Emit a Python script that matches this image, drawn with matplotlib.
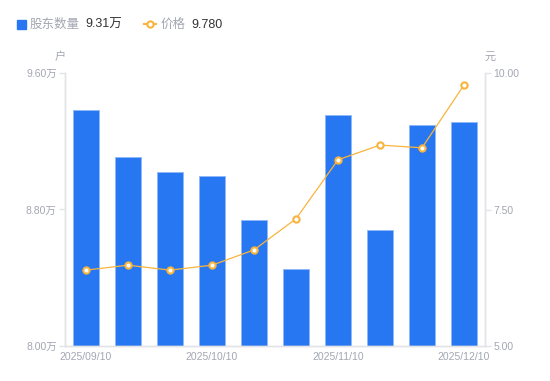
import numpy as np
import matplotlib
matplotlib.use("Agg")
from matplotlib import pyplot as plt
from matplotlib.lines import Line2D
from matplotlib.patches import Rectangle

plt.rcParams['font.family'] = ['Liberation Sans', 'Noto Sans CJK SC', 'DejaVu Sans']
cjk = ['Noto Sans CJK SC', 'DejaVu Sans']

# data
dates = ['2025/09/10', '', '', '2025/10/10', '', '', '2025/11/10', '', '', '2025/12/10']
holders = [9.383, 9.108, 9.020, 8.996, 8.738, 8.451, 9.354, 8.680, 9.295, 9.31]  # 万户
price = [6.39, 6.48, 6.39, 6.48, 6.76, 7.33, 8.41, 8.68, 8.63, 9.78]  # 元
left_ticks = [8.00, 8.80, 9.60]
right_ticks = [5.00, 7.50, 10.00]

blue = '#2777f2'
orange = '#f9b43c'
grey = '#a3a6b2'
axis_grey = '#e2e4e8'

fig = plt.figure(figsize=(5.5, 3.81), dpi=100)
ax = fig.add_axes([65/550, 35/381, 420/550, 273/381])
ax2 = ax.twinx()

x = np.arange(len(holders))
ax.bar(x, holders, width=0.6, color=blue, edgecolor='#8fb8f8', linewidth=0.6, zorder=2)
ax.set_xlim(-0.5, len(holders) - 0.5)
ax.set_ylim(left_ticks[0], left_ticks[-1])
ax.set_yticks(left_ticks)
ax.set_yticklabels(['%.2f万' % v for v in left_ticks])
ax.set_xticks(x)
ax.set_xticklabels(dates)

ax2.plot(x, price, color=orange, lw=0.9, marker='o', ms=4.5, mfc='white', mec=orange, mew=1.5, zorder=3)
ax2.set_ylim(right_ticks[0], right_ticks[-1])
ax2.set_yticks(right_ticks)
ax2.set_yticklabels(['%.2f' % v for v in right_ticks])

for a in (ax, ax2):
    a.spines['top'].set_visible(False)
    for s in ('left', 'right', 'bottom'):
        a.spines[s].set_color(axis_grey)
        a.spines[s].set_linewidth(1)
    a.tick_params(axis='y', colors=axis_grey, labelcolor=grey, labelsize=7.5, length=4, width=1, pad=2)
ax.tick_params(axis='x', length=0, labelcolor=grey, labelsize=7.5, pad=4)
ax2.set_zorder(ax.get_zorder() + 1)
ax2.patch.set_visible(False)

# axis unit labels
fig.text(60/550, 1 - 57/381, '户', color=grey, fontsize=8, ha='center', va='center', family=cjk)
fig.text(490/550, 1 - 57/381, '元', color=grey, fontsize=8, ha='center', va='center', family=cjk)

# legend drawn at top
ly = 1 - 24/381
by = 1 - 28/381  # text baseline
fig.patches.append(Rectangle((17/550, ly - 4.5/381), 9/550, 9/381, transform=fig.transFigure,
                             color=blue, figure=fig))
fig.text(30/550, by, '股东数量', color=grey, fontsize=9, va='baseline', family=cjk)
fig.text(85/550, by, '%.2f万' % holders[-1], color='#333333', fontsize=9, va='baseline')
fig.lines.append(Line2D([144/550, 156/550], [ly, ly], transform=fig.transFigure, color=orange, lw=1.5,
                        figure=fig))
fig.lines.append(Line2D([150/550], [ly], transform=fig.transFigure, color=orange, marker='o', ms=4.5,
                        mfc='white', mew=1.5, figure=fig))
fig.text(161/550, by, '价格', color=grey, fontsize=9, va='baseline', family=cjk)
fig.text(191/550, by, '%.3f' % price[-1], color='#333333', fontsize=9, va='baseline')

fig.savefig('out.png', dpi=100)
